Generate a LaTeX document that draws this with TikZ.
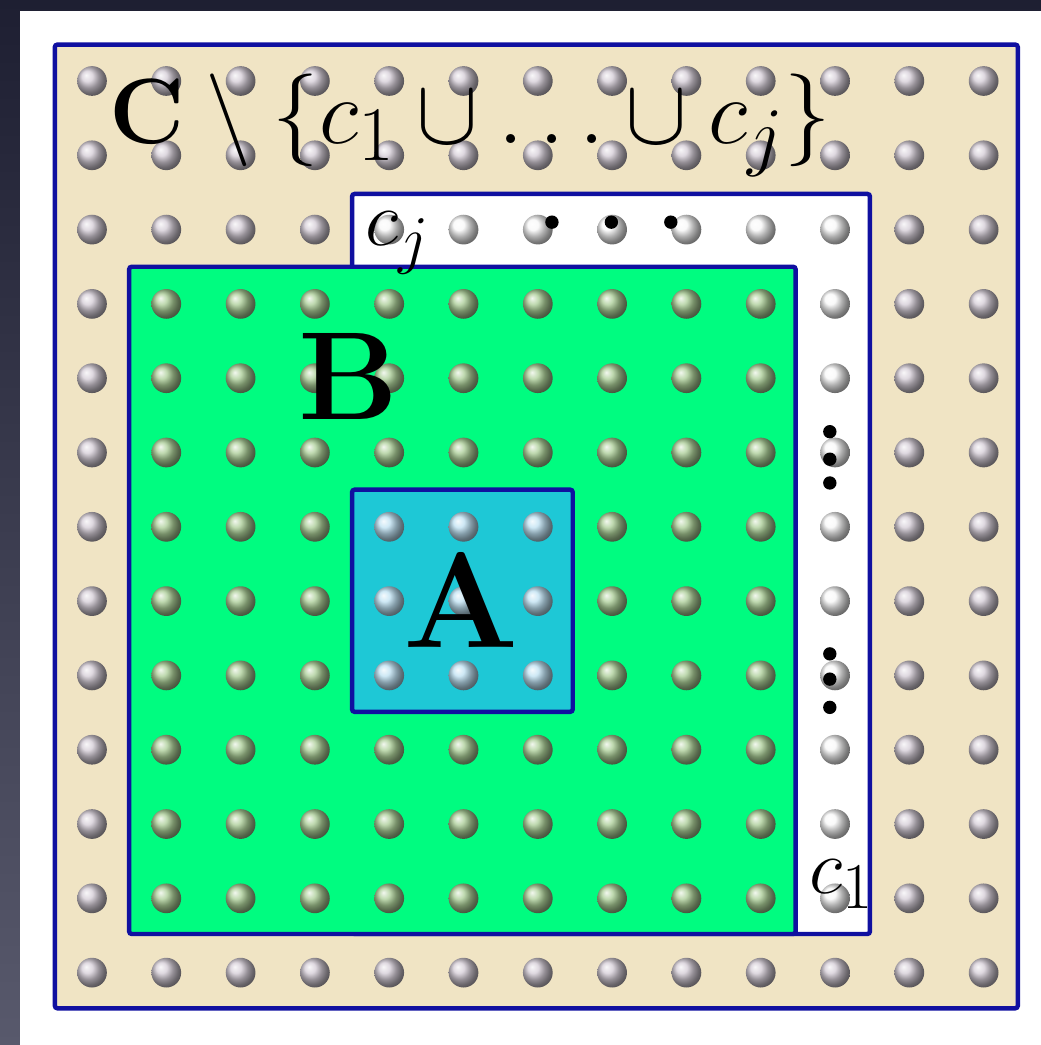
\documentclass[tikz,border=0pt]{standalone}
\usepackage{xcolor}
\usepackage{tikz}

\definecolor{tanbg}{RGB}{240,228,196}
\definecolor{edgeblue}{RGB}{16,16,160}
\definecolor{bgreen}{RGB}{0,252,128}
\definecolor{acyan}{RGB}{30,200,214}
\definecolor{shadetop}{RGB}{30,31,50}
\definecolor{shadebot}{RGB}{88,89,108}
\definecolor{cball}{RGB}{212,204,214}
\definecolor{wball}{RGB}{248,248,248}
\definecolor{bball}{RGB}{170,205,150}
\definecolor{aball}{RGB}{190,225,242}

\begin{document}
\begin{tikzpicture}[
  reg/.style={draw=edgeblue, line width=1.7pt, rounded corners=1pt},
  lbl/.style={inner sep=0pt, font=\Huge, scale=#1},
  blob/.style={fill=black}
]
\useasboundingbox (-1.238,1.090) rectangle (12.772,-12.974);
\shade[top color=shadetop, bottom color=shadebot] (-1.238,1.090) rectangle (12.772,-12.974);
\fill[white] (-0.969,0.942) rectangle (12.772,-12.974);

% set C
\draw[reg, fill=tanbg] (-0.5,0.49) rectangle (12.46,-12.48);
\foreach \i in {0,...,12}
  \foreach \j in {0,...,12}
    \shade[ball color=cball] (\i,-\j) circle (0.2);

% c_1 ... c_j
\draw[reg, fill=white] (3.5,-1.52) rectangle (10.47,-11.48);
\foreach \i in {4,...,10}
  \shade[ball color=wball] (\i,-2) circle (0.2);
\foreach \j in {3,...,11}
  \shade[ball color=wball] (10,-\j) circle (0.2);

% set B
\draw[reg, fill=bgreen] (0.5,-2.5) rectangle (9.47,-11.48);
\foreach \i in {1,...,9}
  \foreach \j in {3,...,11}
    \shade[ball color=bball] (\i,-\j) circle (0.2);

% set A
\draw[reg, fill=acyan] (3.5,-5.5) rectangle (6.47,-8.49);
\foreach \i in {4,...,6}
  \foreach \j in {6,...,8}
    \shade[ball color=aball] (\i,-\j) circle (0.2);

% dots
\foreach \x in {6.19,6.99,7.79}
  \fill[blob] (\x,-1.9) circle (0.09);
\foreach \y in {-4.72,-5.09,-5.41,-7.71,-8.05,-8.43}
  \fill[blob] (9.93,\y) circle (0.09);

% labels
\node[lbl=1.427, anchor=base west] (setC) at (0.23,-0.835) {$\mathbf{C}\setminus\{c_1\cup\ldots\cup c_j\}$};
\node[lbl=1.93, anchor=base] (setB) at (3.46,-4.56) {$\mathbf{B}$};
\node[lbl=2.09, anchor=base] (setA) at (4.97,-7.63) {$\mathbf{A}$};
\node[lbl=1.206, anchor=base west] (labj) at (3.67,-2.22) {$c_j$};
\node[lbl=1.206, anchor=base west] (lab1) at (9.65,-10.93) {$c_1$};
\end{tikzpicture}
\end{document}
